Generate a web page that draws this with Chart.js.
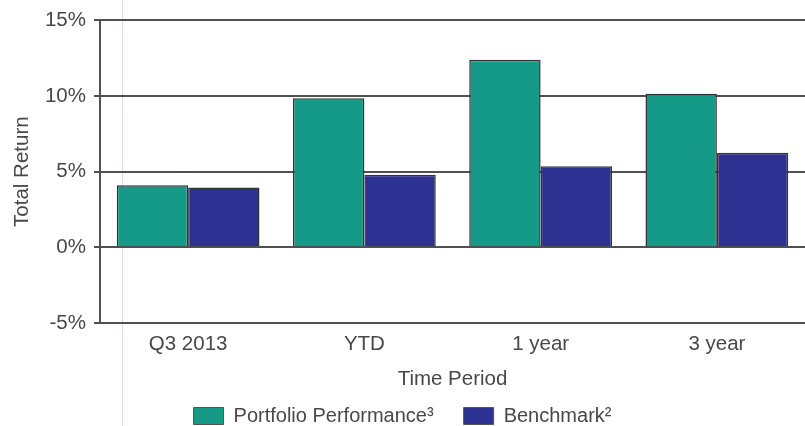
<!DOCTYPE html>
<html>
<head>
<meta charset="utf-8">
<script src="https://cdn.jsdelivr.net/npm/chart.js@4/dist/chart.umd.min.js"></script>
<style>
html,body{margin:0;padding:0;background:#fff;}
#wrap{width:805px;height:426px;position:relative;}
</style>
</head>
<body>
<div id="wrap"><canvas id="c"></canvas></div>
<script>
const categories = ["Q3 2013", "YTD", "1 year", "3 year"];
const portfolio = [4.1, 9.85, 12.4, 10.15];
const benchmark = [3.95, 4.8, 5.35, 6.25];
const yTicks = [-5, 0, 5, 10, 15];
const seriesNames = ["Portfolio Performance\u00B3", "Benchmark\u00B2"];

const textColor = '#484848';
const gridColor = '#505050';
const fontFam = "'Liberation Sans', Arial, sans-serif";
const fs = 20.5;

const scanLine = {
  id: 'scanLine',
  beforeDraw(chart) {
    const ctx = chart.ctx;
    ctx.save();
    ctx.strokeStyle = 'rgba(230,190,225,0.7)';
    ctx.lineWidth = 1;
    ctx.beginPath();
    ctx.moveTo(122.5, 0);
    ctx.lineTo(122.5, chart.height);
    ctx.stroke();
    ctx.restore();
  }
};

new Chart(document.getElementById('c'), {
  type: 'bar',
  data: {
    labels: categories,
    datasets: [
      { label: seriesNames[0], data: portfolio, backgroundColor: '#169a88', borderColor: '#333', borderWidth: 1.5 },
      { label: seriesNames[1], data: benchmark, backgroundColor: '#2c3192', borderColor: '#333', borderWidth: 1.5 }
    ]
  },
  options: {
    responsive: true,
    maintainAspectRatio: false,
    animation: false,
    layout: { padding: { top: 12, right: 0, left: 0, bottom: 0 } },
    datasets: { bar: { categoryPercentage: 0.81, barPercentage: 1.0 } },
    plugins: {
      legend: {
        position: 'bottom',
        maxHeight: 50,
        labels: {
          color: textColor,
          font: { family: fontFam, size: 20 },
          boxWidth: 30, boxHeight: 17, padding: 30,
          generateLabels(chart) {
            return chart.data.datasets.map((ds, i) => ({
              text: ds.label, fillStyle: ds.backgroundColor, strokeStyle: '#555', lineWidth: 1,
              datasetIndex: i, fontColor: textColor, hidden: false
            }));
          }
        }
      },
      tooltip: { enabled: false }
    },
    scales: {
      x: {
        afterFit(scale) { scale.height = 53; },
        grid: { display: false, drawTicks: false },
        border: { display: false },
        ticks: { color: textColor, font: { family: fontFam, size: fs }, padding: 9 },
        title: { display: true, text: 'Time Period', color: textColor, font: { family: fontFam, size: fs }, padding: { top: 0, bottom: -16 } }
      },
      y: {
        min: yTicks[0], max: yTicks[yTicks.length - 1],
        afterBuildTicks(scale) { scale.ticks = yTicks.map(v => ({ value: v })); },
        afterFit(scale) { scale.width = 100; },
        grid: { color: gridColor, lineWidth: 2, tickLength: 6, drawTicks: true, tickColor: gridColor },
        border: { display: true, color: gridColor, width: 2 },
        ticks: { color: textColor, font: { family: fontFam, size: fs }, padding: 8, callback: v => v + '%' },
        title: { display: true, text: 'Total Return', color: textColor, font: { family: fontFam, size: fs }, padding: { top: 10, bottom: 0 } }
      }
    }
  },
  plugins: [scanLine]
});
</script>
</body>
</html>
